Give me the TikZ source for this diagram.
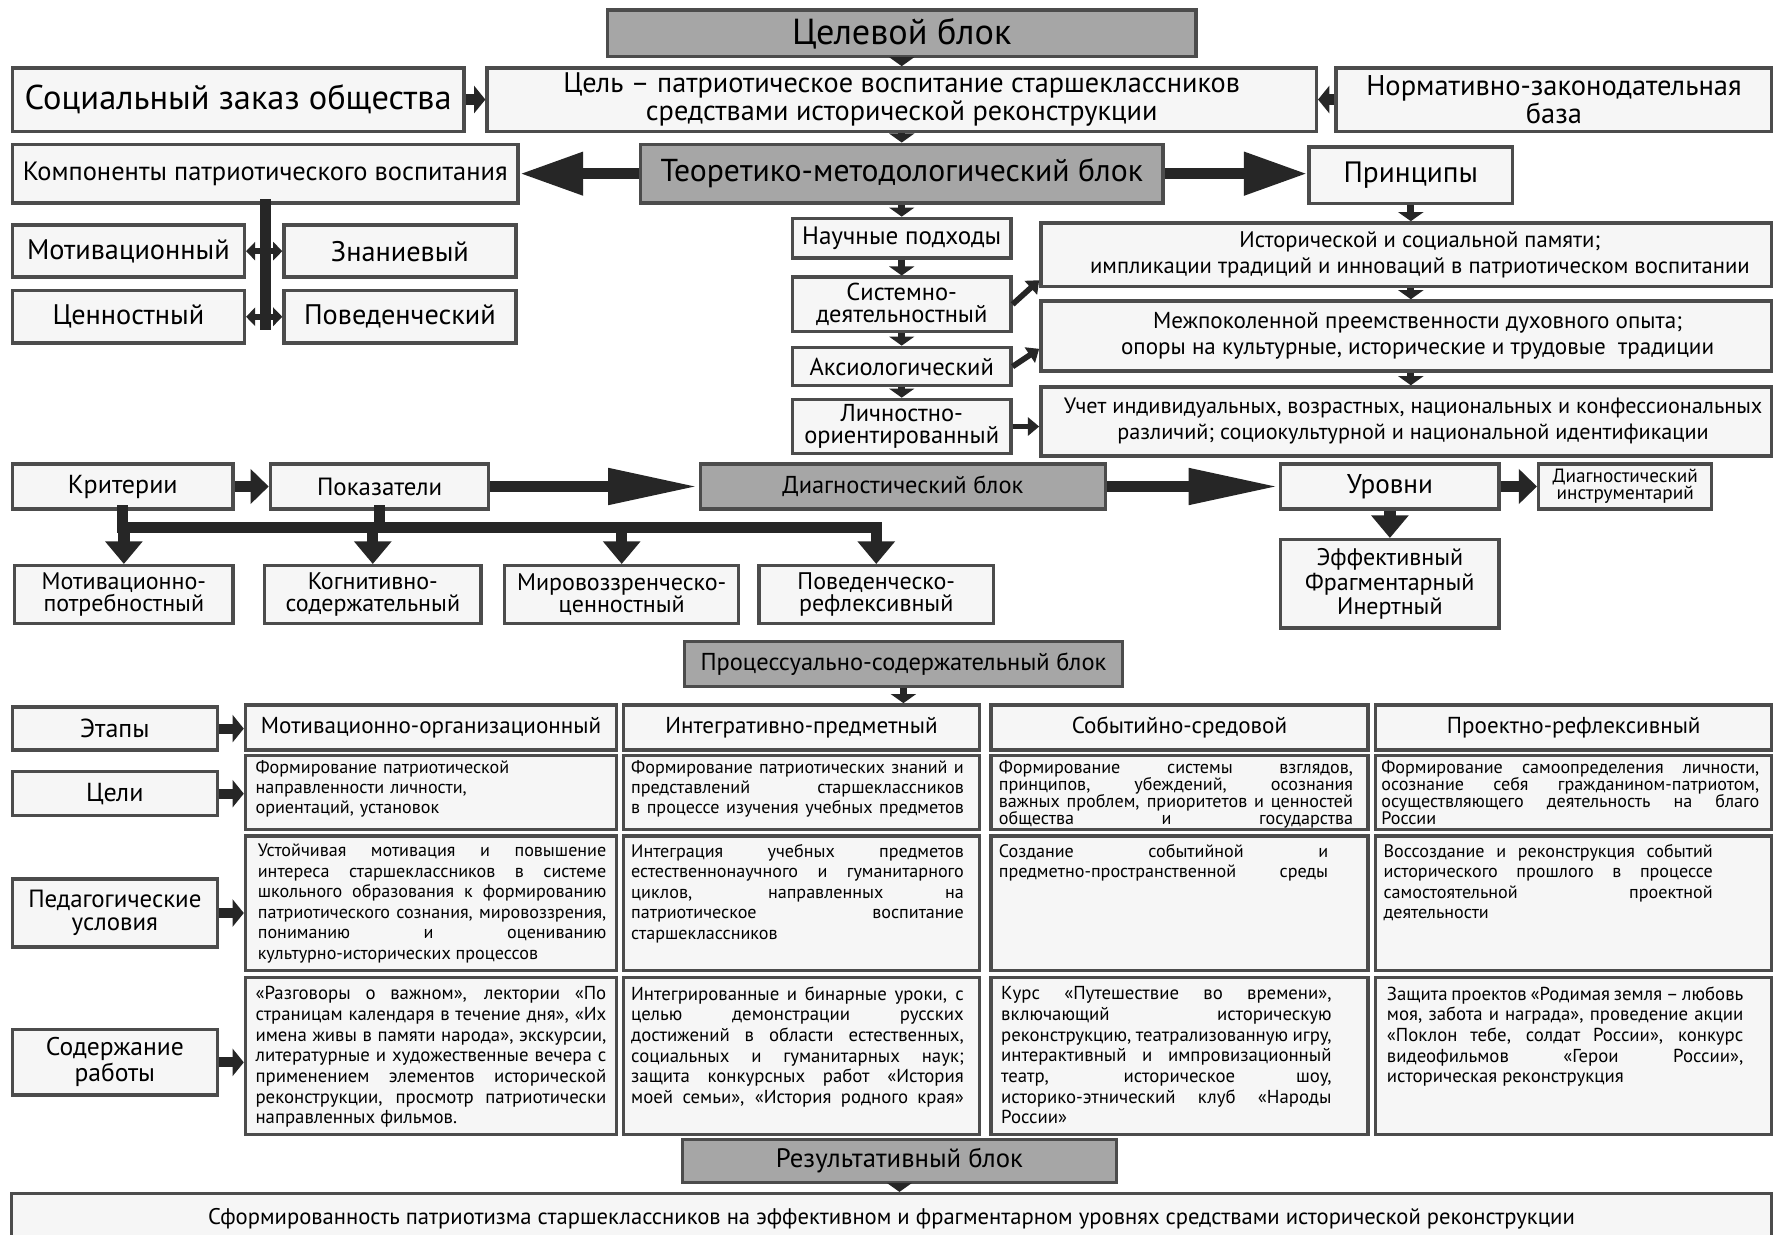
\documentclass[tikz,border=0pt]{standalone}
\usepackage{fontspec}
\setmainfont{PT Sans}
\usetikzlibrary{arrows.meta}
\tolerance=10000
\hbadness=10000

\tikzset{
  box/.style={draw=black!70, line width=1.5pt, fill=gray!7, align=center, inner sep=1pt},
  blk/.style={box, fill=black!35},
  celltxt/.style={anchor=north west, inner sep=0pt, align=justify, font=\fontsize{8}{9.1}\selectfont},
  sarr/.style={-{Triangle[length=4pt,width=11pt]}, line width=3pt, black!85},
  marr/.style={-{Triangle[length=5pt,width=12pt]}, line width=4.5pt, black!85},
  harr/.style={-{Triangle[length=8pt,width=15pt]}, line width=5pt, black!85},
  bigarr/.style={-{Triangle[length=28pt,width=18pt]}, line width=5pt, black!85},
  longarr/.style={-{Triangle[length=40pt,width=15pt]}, line width=5pt, black!85},
  busarr/.style={-{Triangle[length=10pt,width=16pt]}, line width=5pt, black!85},
  darr/.style={-{Triangle[length=5pt,width=8pt]}, line width=2.5pt, black!85},
  dblarr/.style={{Triangle[length=4pt,width=8pt]}-{Triangle[length=4pt,width=8pt]}, line width=2.5pt, black!85},
  bar/.style={line width=5pt, black!85, line cap=rect}
}

\begin{document}
\begin{tikzpicture}[x=0.5pt, y=-0.5pt]
\fill[white] (0,0) rectangle (1568,1091);
\useasboundingbox (0,0) rectangle (1568,1091);

% целевой блок
\node[blk, minimum width=260pt, minimum height=20.5pt, font=\fontsize{16}{18}\selectfont] (tgt) at (797,29.5) {Целевой блок};
\node[box, minimum width=199.5pt, minimum height=28pt, font=\fontsize{15.2}{17}\selectfont] (soc) at (210.5,88) {Социальный заказ общества};
\node[box, minimum width=366.5pt, minimum height=28pt, font=\fontsize{12.5}{12.5}\selectfont] (goal) at (797,88) {Цель – патриотическое воспитание старшеклассников\\средствами исторической реконструкции};
\node[box, minimum width=192.5pt, minimum height=28pt, font=\fontsize{12.6}{12.5}\selectfont] (norm) at (1373.5,88) {Нормативно-законодательная\\база};

\draw[sarr] (tgt) -- (goal);
\draw[marr] (soc) -- (goal);
\draw[marr] (norm) -- (goal);

% теоретико-методологический блок
\node[blk, minimum width=231pt, minimum height=26pt, font=\fontsize{14}{15}\selectfont] (teo) at (797,153.5) {Теоретико-методологический блок};
\node[box, minimum width=223.5pt, minimum height=26pt, font=\fontsize{11.7}{13}\selectfont] (comp) at (234.5,153.5) {Компоненты патриотического воспитания};
\node[box, minimum width=90pt, minimum height=25pt, font=\fontsize{13}{15}\selectfont] (prin) at (1247,155) {Принципы};

\draw[sarr] (goal) -- (teo);
\draw[bigarr] (teo) -- (comp);
\draw[bigarr] (teo.east) -- (prin.west |- teo.east);

% компоненты
\node[box, minimum width=102.5pt, minimum height=23pt, font=\fontsize{12.5}{15}\selectfont] (mot) at (113.5,222) {Мотивационный};
\node[box, minimum width=102.5pt, minimum height=23pt, font=\fontsize{12.5}{15}\selectfont] (zna) at (353.5,222) {Знаниевый};
\node[box, minimum width=102.5pt, minimum height=23pt, font=\fontsize{12.5}{15}\selectfont] (cen) at (113.5,280) {Ценностный};
\node[box, minimum width=102.5pt, minimum height=23pt, font=\fontsize{12.5}{15}\selectfont] (pov) at (353.5,280) {Поведенческий};
\coordinate (cbar) at (234.5,287);

\draw[bar] (comp.south) -- (cbar);
\draw[dblarr] (mot) -- (zna);
\draw[dblarr] (cen) -- (pov);

% научные подходы
\node[box, minimum width=96.5pt, minimum height=17.5pt, font=\fontsize{11.1}{13}\selectfont] (nauch) at (797,210.5) {Научные подходы};
\node[box, minimum width=96.5pt, minimum height=24pt, font=\fontsize{10.8}{10}\selectfont] (sys) at (797,269) {Системно-\\деятельностный};
\node[box, minimum width=96.5pt, minimum height=17pt, font=\fontsize{10.8}{13}\selectfont] (aks) at (797,324) {Аксиологический};
\node[box, minimum width=96.5pt, minimum height=24pt, font=\fontsize{10.8}{10}\selectfont] (lich) at (797,377) {Личностно-\\ориентированный};

\draw[sarr] (teo) -- (nauch);
\draw[sarr] (nauch) -- (sys);
\draw[sarr] (sys) -- (aks);
\draw[sarr] (aks) -- (lich);

% принципы
\node[box, minimum width=323pt, minimum height=28pt, font=\fontsize{10}{11.5}\selectfont] (pr1) at (1243,225) {\hspace*{12pt}Исторической и социальной памяти;\\\hspace*{12pt}импликации традиций и инноваций в патриотическом воспитании};
\node[box, minimum width=323pt, minimum height=31pt, font=\fontsize{10.2}{11.5}\selectfont] (pr2) at (1243,297) {\hspace*{10pt}Межпоколенной преемственности духовного опыта;\\\hspace*{10pt}опоры на культурные, исторические и трудовые~ традиции};
\node[box, minimum width=323pt, minimum height=30.5pt, font=\fontsize{9.8}{11.5}\selectfont] (pr3) at (1243,372.5) {\hspace*{6pt}Учет индивидуальных, возрастных, национальных и конфессиональных\\\hspace*{6pt}различий; социокультурной и национальной идентификации};

\draw[sarr] (prin) -- (prin |- pr1.north);
\draw[sarr] (pr1.south -| prin) -- (pr2.north -| prin);
\draw[sarr] (pr2.south -| prin) -- (pr3.north -| prin);
\draw[darr] (sys.east) -- (pr1.184);
\draw[darr] (aks.east) -- (pr2.182);
\draw[darr] (lich.east) -- (lich.east -| pr3.west);

% диагностический блок
\node[box, minimum width=97.5pt, minimum height=20pt, font=\fontsize{11.5}{13}\selectfont] (crit) at (108.5,430) {Критерии};
\node[box, minimum width=96.5pt, minimum height=20pt, font=\fontsize{11}{13}\selectfont] (pok) at (335.5,430) {Показатели};
\node[blk, minimum width=179pt, minimum height=20pt, font=\fontsize{10.8}{13}\selectfont] (diag) at (798,430) {Диагностический блок};
\node[box, minimum width=96.5pt, minimum height=20pt, font=\fontsize{12}{13}\selectfont] (urov) at (1228.5,430) {Уровни};
\node[box, minimum width=76.5pt, minimum height=20pt, font=\fontsize{8.5}{7.5}\selectfont] (instr) at (1436.5,430) {Диагностический\\инструментарий};
\node[box, minimum width=96.5pt, minimum height=39pt, font=\fontsize{10.6}{9.2}\selectfont] (eff) at (1228.5,516) {Эффективный\\Фрагментарный\\Инертный};

\draw[harr] (crit) -- (pok);
\draw[longarr] (pok) -- (diag);
\draw[longarr] (diag) -- (urov);
\draw[harr] (urov) -- (instr);
\draw[busarr] (urov) -- (eff);

% критерии
\node[box, minimum width=96.5pt, minimum height=25.5pt, font=\fontsize{10.6}{10}\selectfont] (mp) at (109.5,525.5) {Мотивационно-\\потребностный};
\node[box, minimum width=95.5pt, minimum height=25.5pt, font=\fontsize{10.6}{10}\selectfont] (kog) at (329.5,525.5) {Когнитивно-\\содержательный};
\node[box, minimum width=103.5pt, minimum height=25.5pt, font=\fontsize{10.6}{10}\selectfont] (mir) at (549.5,525.5) {Мировоззренческо-\\ценностный};
\node[box, minimum width=103.5pt, minimum height=25.5pt, font=\fontsize{10.6}{10}\selectfont] (povr) at (774.5,525.5) {Поведенческо-\\рефлексивный};
\coordinate (bus) at (0,466);

\draw[bar] (crit.south) -- (crit.south |- bus) -- (povr.north |- bus);
\draw[bar] (pok.south) -- (pok.south |- bus);
\draw[busarr] (mp.north |- bus) -- (mp.north);
\draw[busarr] (kog.north |- bus) -- (kog.north);
\draw[busarr] (mir.north |- bus) -- (mir.north);
\draw[busarr] (povr.north |- bus) -- (povr.north);

% процессуально-содержательный блок
\node[blk, minimum width=193.5pt, minimum height=20pt, font=\fontsize{10.8}{13}\selectfont] (proc) at (798.5,587) {Процессуально-содержательный блок};

\node[box, minimum width=90.5pt, minimum height=19pt, font=\fontsize{11.5}{13}\selectfont] (etap) at (101.5,644) {Этапы};
\node[box, minimum width=90.5pt, minimum height=19.5pt, font=\fontsize{11.5}{13}\selectfont] (celi) at (101.5,701.5) {Цели};
\node[box, minimum width=90.5pt, minimum height=30pt, font=\fontsize{11}{10}\selectfont] (ped) at (101.5,807) {Педагогические\\условия};
\node[box, minimum width=90.5pt, minimum height=29pt, font=\fontsize{11.3}{10}\selectfont] (sod) at (101.5,939) {Содержание\\работы};

\node[box, minimum width=164pt, minimum height=20pt, font=\fontsize{10.2}{13}\selectfont] (h1) at (381,643) {Мотивационно-организационный};
\node[box, minimum width=157.5pt, minimum height=20pt, font=\fontsize{10.2}{13}\selectfont] (h2) at (708.5,643) {Интегративно-предметный};
\node[box, minimum width=166.5pt, minimum height=20pt, font=\fontsize{10.2}{13}\selectfont] (h3) at (1042.5,643) {Событийно-средовой};
\node[box, minimum width=175pt, minimum height=20pt, font=\fontsize{10.2}{13}\selectfont] (h4) at (1391,643) {Проектно-рефлексивный};

\draw[sarr] (proc) -- (proc |- h2.north);
\draw[marr] (etap) -- (etap -| h1.west);

% цели
\node[box, minimum width=164pt, minimum height=32.5pt] (m1) at (381,700.5) {};
\node[box, minimum width=157.5pt, minimum height=32.5pt] (m2) at (708.5,700.5) {};
\node[box, minimum width=166.5pt, minimum height=32.5pt] (m3) at (1042.5,700.5) {};
\node[box, minimum width=175pt, minimum height=32.5pt] (m4) at (1391,700.5) {};
\node[celltxt, align=left, text width=154pt, font=\fontsize{8}{9}\selectfont] (m1t) at ([shift={(5pt,-2.5pt)}]m1.north west) {Формирование патриотической\\направленности личности,\\ориентаций, установок};
\node[celltxt, text width=147pt, font=\fontsize{8}{8.8}\selectfont] (m2t) at ([shift={(4pt,-2.5pt)}]m2.north west) {Формирование патриотических знаний и\linebreak представлений старшеклассников\linebreak в процессе изучения учебных предметов\parfillskip=0pt\par};
\node[celltxt, text width=156.5pt, font=\fontsize{8}{7.6}\selectfont] (m3t) at ([shift={(4pt,-2.5pt)}]m3.north west) {Формирование системы взглядов,\linebreak принципов, убеждений, осознания\linebreak важных проблем, приоритетов и ценностей\linebreak общества и государства\parfillskip=0pt\par};
\node[celltxt, text width=167pt, font=\fontsize{8}{7.6}\selectfont] (m4t) at ([shift={(3pt,-2.5pt)}]m4.north west) {Формирование самоопределения личности,\linebreak осознание себя гражданином-патриотом,\linebreak осуществляющего деятельность на благо\linebreak России};

\draw[marr] (celi) -- (celi -| m1.west);

% педагогические условия
\node[box, minimum width=164pt, minimum height=59.5pt] (p1) at (381,798.5) {};
\node[box, minimum width=157.5pt, minimum height=59.5pt] (p2) at (708.5,798.5) {};
\node[box, minimum width=166.5pt, minimum height=59.5pt] (p3) at (1042.5,798.5) {};
\node[box, minimum width=175pt, minimum height=59.5pt] (p4) at (1391,798.5) {};
\node[celltxt, text width=154pt] (p1t) at ([shift={(6pt,-4pt)}]p1.north west) {Устойчивая мотивация и повышение\linebreak интереса старшеклассников в системе\linebreak школьного образования к формированию\linebreak патриотического сознания, мировоззрения,\linebreak пониманию и оцениванию\linebreak культурно-исторических процессов};
\node[celltxt, text width=147pt] (p2t) at ([shift={(4pt,-4pt)}]p2.north west) {Интеграция учебных предметов\linebreak естественнонаучного и гуманитарного\linebreak циклов, направленных на\linebreak патриотическое воспитание\linebreak старшеклассников};
\node[celltxt, text width=145.5pt] (p3t) at ([shift={(4pt,-4pt)}]p3.north west) {Создание событийной и\linebreak предметно-пространственной среды\parfillskip=0pt\par};
\node[celltxt, text width=145.5pt] (p4t) at ([shift={(4pt,-4pt)}]p4.north west) {Воссоздание и реконструкция событий\linebreak исторического прошлого в процессе\linebreak самостоятельной проектной\linebreak деятельности};

\draw[marr] (ped) -- (ped -| p1.west);

% содержание работы
\node[box, minimum width=164pt, minimum height=69.5pt] (s1) at (381,933.5) {};
\node[box, minimum width=157.5pt, minimum height=69.5pt] (s2) at (708.5,933.5) {};
\node[box, minimum width=166.5pt, minimum height=69.5pt] (s3) at (1042.5,933.5) {};
\node[box, minimum width=175pt, minimum height=69.5pt] (s4) at (1391,933.5) {};
\node[celltxt, text width=155pt, font=\fontsize{8.3}{9.15}\selectfont] (s1t) at ([shift={(5pt,-4.5pt)}]s1.north west) {«Разговоры о важном», лектории «По\linebreak страницам календаря в течение дня», «Их\linebreak имена живы в памяти народа», экскурсии,\linebreak литературные и художественные вечера с\linebreak применением элементов исторической\linebreak реконструкции, просмотр патриотически\linebreak направленных фильмов.};
\node[celltxt, text width=147pt, font=\fontsize{8.3}{9.15}\selectfont] (s2t) at ([shift={(4pt,-4.5pt)}]s2.north west) {Интегрированные и бинарные уроки, с\linebreak целью демонстрации русских\linebreak достижений в области естественных,\linebreak социальных и гуманитарных наук;\linebreak защита конкурсных работ «История\linebreak моей семьи», «История родного края»\parfillskip=0pt\par};
\node[celltxt, text width=146pt, font=\fontsize{8.3}{9.15}\selectfont] (s3t) at ([shift={(5pt,-4.5pt)}]s3.north west) {Курс «Путешествие во времени»,\linebreak включающий историческую\linebreak реконструкцию, театрализованную игру,\linebreak интерактивный и импровизационный\linebreak театр, историческое шоу,\linebreak историко-этнический клуб «Народы\linebreak России»};
\node[celltxt, text width=157.5pt, font=\fontsize{8.3}{9.15}\selectfont] (s4t) at ([shift={(5.5pt,-4.5pt)}]s4.north west) {Защита проектов «Родимая земля – любовь\linebreak моя, забота и награда», проведение акции\linebreak «Поклон тебе, солдат России», конкурс\linebreak видеофильмов «Герои России»,\linebreak историческая реконструкция};

\draw[marr] (sod) -- (sod -| s1.west);

% результативный блок
\node[blk, minimum width=192pt, minimum height=19pt, font=\fontsize{11.8}{13}\selectfont] (res) at (795,1026) {Результативный блок};
\node[box, minimum width=778pt, minimum height=22.5pt, font=\fontsize{10}{13}\selectfont] (fin) at (788,1077.5) {Сформированность патриотизма старшеклассников на эффективном и фрагментарном уровнях средствами исторической реконструкции};

\draw[sarr] (res) -- (res |- fin.north);
\end{tikzpicture}
\end{document}
